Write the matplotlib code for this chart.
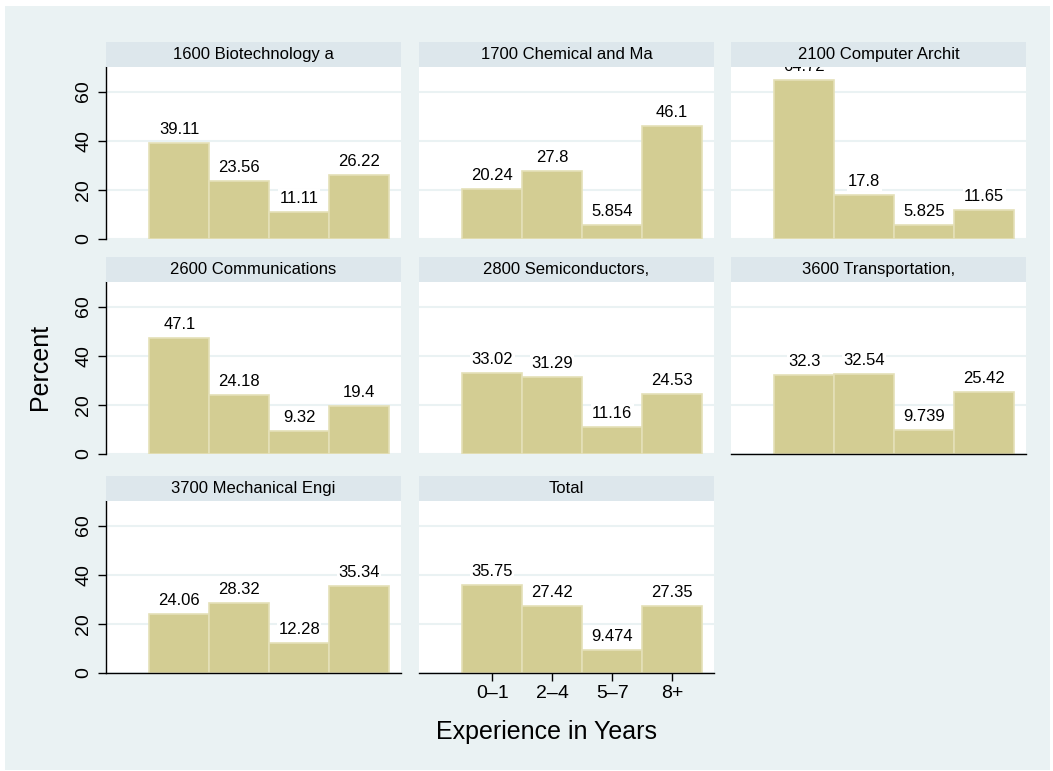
import numpy as np
import matplotlib.pyplot as plt
from matplotlib.patches import Rectangle

plt.rcParams['font.family'] = ['Liberation Sans', 'DejaVu Sans']

# Data
categories = ["0–1", "2–4", "5–7", "8+"]
panels = ["1600 Biotechnology a", "1700 Chemical and Ma", "2100 Computer Archit",
          "2600 Communications", "2800 Semiconductors,", "3600 Transportation,",
          "3700 Mechanical Engi", "Total"]
biotech = [39.11, 23.56, 11.11, 26.22]
chemical = [20.24, 27.8, 5.854, 46.1]
computer = [64.72, 17.8, 5.825, 11.65]
communications = [47.1, 24.18, 9.32, 19.4]
semiconductors = [33.02, 31.29, 11.16, 24.53]
transportation = [32.3, 32.54, 9.739, 25.42]
mechanical = [24.06, 28.32, 12.28, 35.34]
total = [35.75, 27.42, 9.474, 27.35]
values = [biotech, chemical, computer, communications,
          semiconductors, transportation, mechanical, total]
yticks = [0, 20, 40, 60]

# Colours
bg = "#EAF2F3"
strip_col = "#DDE7EC"
bar_col = "#D3CD93"
bar_edge = "#E4E0B8"

W, H = 1053, 771
fig = plt.figure(figsize=(W / 100, H / 100), dpi=100)
fig.patch.set_facecolor("white")
fig.patches.append(Rectangle((5 / W, 1 / H), 1045 / W, 764 / H,
                             transform=fig.transFigure, facecolor=bg,
                             edgecolor="none", zorder=-10))


def px_axes(left, top, w, h):
    return fig.add_axes([left / W, 1 - (top + h) / H, w / W, h / H])


col_left = [106, 419, 731]
row_top = [67, 282, 501]
col_w, row_h, strip_h = 295, 172, 25
x = np.arange(len(categories))

for i, (name, vals) in enumerate(zip(panels, values)):
    r, c = divmod(i, 3)
    ax = px_axes(col_left[c], row_top[r], col_w, row_h)
    ax.set_facecolor("white")
    ax.set_ylim(0, 70)
    ax.set_xlim(-1.225, 3.7)
    ax.set_yticks(yticks)
    ax.yaxis.grid(True, color=bg, linewidth=1.5)
    ax.set_axisbelow(True)
    ax.bar(x, vals, width=1.0, color=bar_col, edgecolor=bar_edge, linewidth=1.2)
    for xi, v in zip(x, vals):
        ax.annotate(f"{v:.4g}", (xi, v), xytext=(0, 6.5), textcoords="offset points",
                    ha="center", va="baseline", fontsize=12, clip_on=True,
                    bbox=dict(facecolor="white", edgecolor="none", pad=1.0))

    for s in ["top", "right"]:
        ax.spines[s].set_visible(False)
    if c == 0:
        ax.spines["left"].set_linewidth(1.0)
        ax.tick_params(axis="y", length=6, width=1, labelsize=14, pad=4)
        for lab in ax.get_yticklabels():
            lab.set_rotation(90)
            lab.set_va("center")
    else:
        ax.spines["left"].set_visible(False)
        ax.tick_params(axis="y", left=False, labelleft=False)

    bottom_of_col = (r == 2) or (c == 2 and r == 1)
    ax.spines["bottom"].set_visible(bottom_of_col)
    ax.spines["bottom"].set_linewidth(1.0)
    if r == 2 and c == 1:
        ax.set_xticks(x, categories)
        ax.tick_params(axis="x", length=6, width=1, labelsize=14, pad=3)
    else:
        ax.set_xticks([])

    sax = px_axes(col_left[c], row_top[r] - strip_h, col_w, strip_h)
    sax.set_facecolor(strip_col)
    sax.set_xticks([])
    sax.set_yticks([])
    for s in sax.spines.values():
        s.set_visible(False)
    sax.text(0.5, 0.5, name, ha="center", va="center", fontsize=12,
             transform=sax.transAxes)

fig.text(40 / W, 1 - 367 / H, "Percent", rotation=90, ha="center", va="center",
         fontsize=18)
fig.text(547 / W, 1 - 732 / H, "Experience in Years", ha="center", va="center",
         fontsize=18)

fig.savefig("out.png", dpi=100)
